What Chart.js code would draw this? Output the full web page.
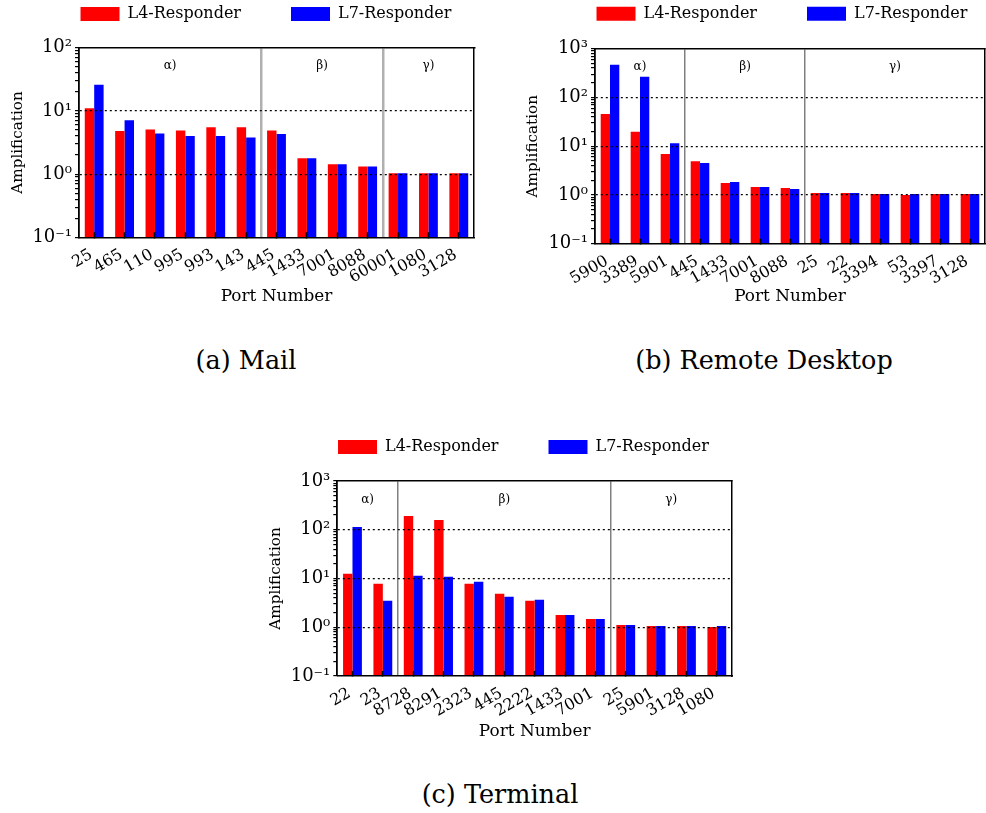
<!DOCTYPE html>
<html><head><meta charset="utf-8">
<script src="https://cdn.jsdelivr.net/npm/chart.js@4.4.1/dist/chart.umd.min.js"></script>
<style>
html,body{margin:0;padding:0;background:#fff;overflow:hidden;}
#page{position:relative;width:986px;height:813px;overflow:hidden;background:#fff;}
#page canvas{position:absolute;}
.cap{position:absolute;width:400px;text-align:center;font-family:'DejaVu Serif',serif;font-size:25.5px;line-height:30px;color:#000;white-space:nowrap;}
</style></head><body>
<div id="page">
  <canvas id="cA" width="532" height="310" style="left:0px;top:0px;width:532px;height:310px"></canvas>
  <canvas id="cB" width="564" height="310" style="left:500px;top:0px;width:564px;height:310px"></canvas>
  <canvas id="cC" width="537" height="315" style="left:255px;top:430px;width:537px;height:315px"></canvas>
  <div class="cap" style="left:46px;top:345px">(a) Mail</div>
  <div class="cap" style="left:564px;top:345px">(b) Remote Desktop</div>
  <div class="cap" style="left:300px;top:779px">(c) Terminal</div>
</div>
<script>
// ---------- data ----------
const seriesNames = ['L4-Responder', 'L7-Responder'];
const sectionNames = ['α)', 'β)', 'γ)'];

const mailPorts = ['25','465','110','995','993','143','445','1433','7001','8088','60001','1080','3128'];
const mailL4 = [11, 4.8, 5.1, 4.9, 5.5, 5.5, 4.9, 1.78, 1.43, 1.32, 1.03, 1.03, 1.03];
const mailL7 = [26, 7.1, 4.4, 4.0, 4.0, 3.8, 4.3, 1.78, 1.43, 1.32, 1.03, 1.03, 1.03];
const mailSections = [0, 6, 10];

const rdPorts = ['5900','3389','5901','445','1433','7001','8088','25','22','3394','53','3397','3128'];
const rdL4 = [46, 19.8, 6.9, 4.9, 1.76, 1.46, 1.39, 1.1, 1.1, 1.05, 1.0, 1.05, 1.05];
const rdL7 = [470, 266, 11.5, 4.5, 1.85, 1.46, 1.33, 1.1, 1.1, 1.05, 1.05, 1.05, 1.05];
const rdSections = [0, 3, 7];

const termPorts = ['22','23','8728','8291','2323','445','2222','1433','7001','25','5901','3128','1080'];
const termL4 = [12.5, 7.8, 191, 158, 7.8, 4.85, 3.5, 1.79, 1.48, 1.11, 1.06, 1.06, 1.01];
const termL7 = [114, 3.5, 11.4, 10.8, 8.6, 4.2, 3.65, 1.79, 1.48, 1.11, 1.06, 1.06, 1.06];
const termSections = [0, 2, 9];

// ---------- helpers ----------
const FONT = "'DejaVu Serif', serif";
const SUP = {'-':'⁻','0':'⁰','1':'¹','2':'²','3':'³','4':'⁴'};
function isPow10(v){ if(!(v>0)) return false; const l=Math.log10(v); return Math.abs(l-Math.round(l))<1e-6; }
function sup(n){ return String(n).split('').map(c=>SUP[c]||c).join(''); }
function mant(v){ return v/Math.pow(10, Math.floor(Math.log10(v)+1e-9)); }
const CLEAR = 'rgba(0,0,0,0)';

function makeChart(id, ports, l4, l7, sections, yMin, yMax, L){
  const sectionPlugin = {
    id: 'sectionLabels',
    afterDatasetsDraw(chart){
      const xs = chart.scales.x, area = chart.chartArea, c = chart.ctx;
      const step = xs.getPixelForValue(1) - xs.getPixelForValue(0);
      const edge = i => xs.getPixelForValue(i) - step/2;
      c.save();
      c.font = '12px ' + FONT; c.fillStyle = '#000';
      c.textAlign = 'center'; c.textBaseline = 'middle';
      sections.forEach((s,k)=>{
        const e = k+1 < sections.length ? sections[k+1] : ports.length;
        c.fillText(sectionNames[k], (edge(s)+edge(e))/2, area.top + L.secY);
      });
      c.restore();
    }
  };
  return new Chart(document.getElementById(id), {
    type: 'bar',
    data: {
      labels: ports,
      datasets: [
        {label: seriesNames[0], data: l4, backgroundColor: '#ff0000', borderWidth: 0},
        {label: seriesNames[1], data: l7, backgroundColor: '#0000ff', borderWidth: 0}
      ]
    },
    options: {
      responsive: false, animation: false, devicePixelRatio: 1,
      layout: {autoPadding: false, padding: {top: L.padTop, left: 0, right: 0, bottom: 0}},
      datasets: {bar: {categoryPercentage: 0.62, barPercentage: 1}},
      plugins: {
        legend: {position: 'top', labels: {boxWidth: 39, boxHeight: 14, padding: 50, color: '#000', font: {family: FONT, size: 16}}},
        tooltip: {enabled: false}
      },
      scales: {
        x: {
          type: 'category', position: 'bottom', offset: true,
          afterFit: s => { s.height = L.xH; },
          ticks: {z: 3, autoSkip: false, minRotation: 30, maxRotation: 30, padding: 13, labelOffset: -3, color: '#000', font: {family: FONT, size: 16}},
          grid: {offset: false, drawOnChartArea: false, drawTicks: true, color: '#000', z: 1,
                 tickColor: '#000', tickWidth: 1.5, tickLength: -5},
          border: {display: true, color: '#000', width: 1.5, dash: [], z: 2},
          title: {display: true, text: 'Port Number', color: '#000', font: {family: FONT, size: 16.9}, padding: {top: 0, bottom: L.xTitlePad}}
        },
        y: {
          type: 'logarithmic', position: 'left', min: yMin, max: yMax,
          afterFit: s => { s.width = L.yW; },
          afterBuildTicks: s => { s.ticks = s.ticks.filter(t => Math.abs(mant(t.value) - 1.5) > 1e-6); },
          ticks: {z: 3, autoSkip: false, padding: 3, color: '#000', font: {family: FONT, size: 18},
                  callback: v => isPow10(v) ? '10' + sup(Math.round(Math.log10(v))) : ''},
          grid: {
            z: 1,
            color: c => (c.tick && isPow10(c.tick.value) && c.tick.value > yMin*1.001 && c.tick.value < yMax*0.999) ? '#000' : CLEAR,
            lineWidth: 1.2, tickColor: '#000', tickWidth: 1.2, tickLength: 4, tickBorderDash: []
          },
          border: {display: true, color: '#000', width: 1.8, dash: [2, 3], z: 2},
          title: {display: true, text: 'Amplification', color: '#000', font: {family: FONT, size: 15.2}, padding: {top: L.yTitlePad, bottom: 0}}
        },
        x2: {
          type: 'category', position: 'top', offset: true,
          afterFit: s => { s.height = L.x2H; },
          ticks: {display: false},
          grid: {display: true, offset: true, drawTicks: false, drawOnChartArea: true,
                 color: c => (c.index > 0 && sections.includes(c.index)) ? L.divColor : CLEAR,
                 lineWidth: L.divWidth},
          border: {display: true, color: '#000', width: 1.5, dash: []}
        },
        y2: {
          type: 'logarithmic', position: 'right', min: yMin, max: yMax,
          afterFit: s => { s.width = L.y2W; },
          ticks: {display: false}, grid: {display: false, drawTicks: false},
          border: {display: true, color: '#000', width: 1.5}
        }
      }
    },
    plugins: [sectionPlugin]
  });
}

makeChart('cA', mailPorts, mailL4, mailL7, mailSections, 0.1, 100,
  {padTop: -44, yW: 79, y2W: 58, x2H: 15.7, xH: 72.7, yTitlePad: 8.9, xTitlePad: 2.9, secY: 18, divColor: '#b0b0b0', divWidth: 2.5});
makeChart('cB', rdPorts, rdL4, rdL7, rdSections, 0.1, 1000,
  {padTop: -44.3, yW: 95, y2W: 79, x2H: 17, xH: 66.3, yTitlePad: 23.9, xTitlePad: 2.9, secY: 18, divColor: '#808080', divWidth: 1.5});
makeChart('cC', termPorts, termL4, termL7, termSections, 0.1, 1000,
  {padTop: -41, yW: 82.3, y2W: 60, x2H: 16, xH: 69, yTitlePad: 11.6, xTitlePad: 3.2, secY: 19, divColor: '#808080', divWidth: 1.5});
</script>
</body></html>
